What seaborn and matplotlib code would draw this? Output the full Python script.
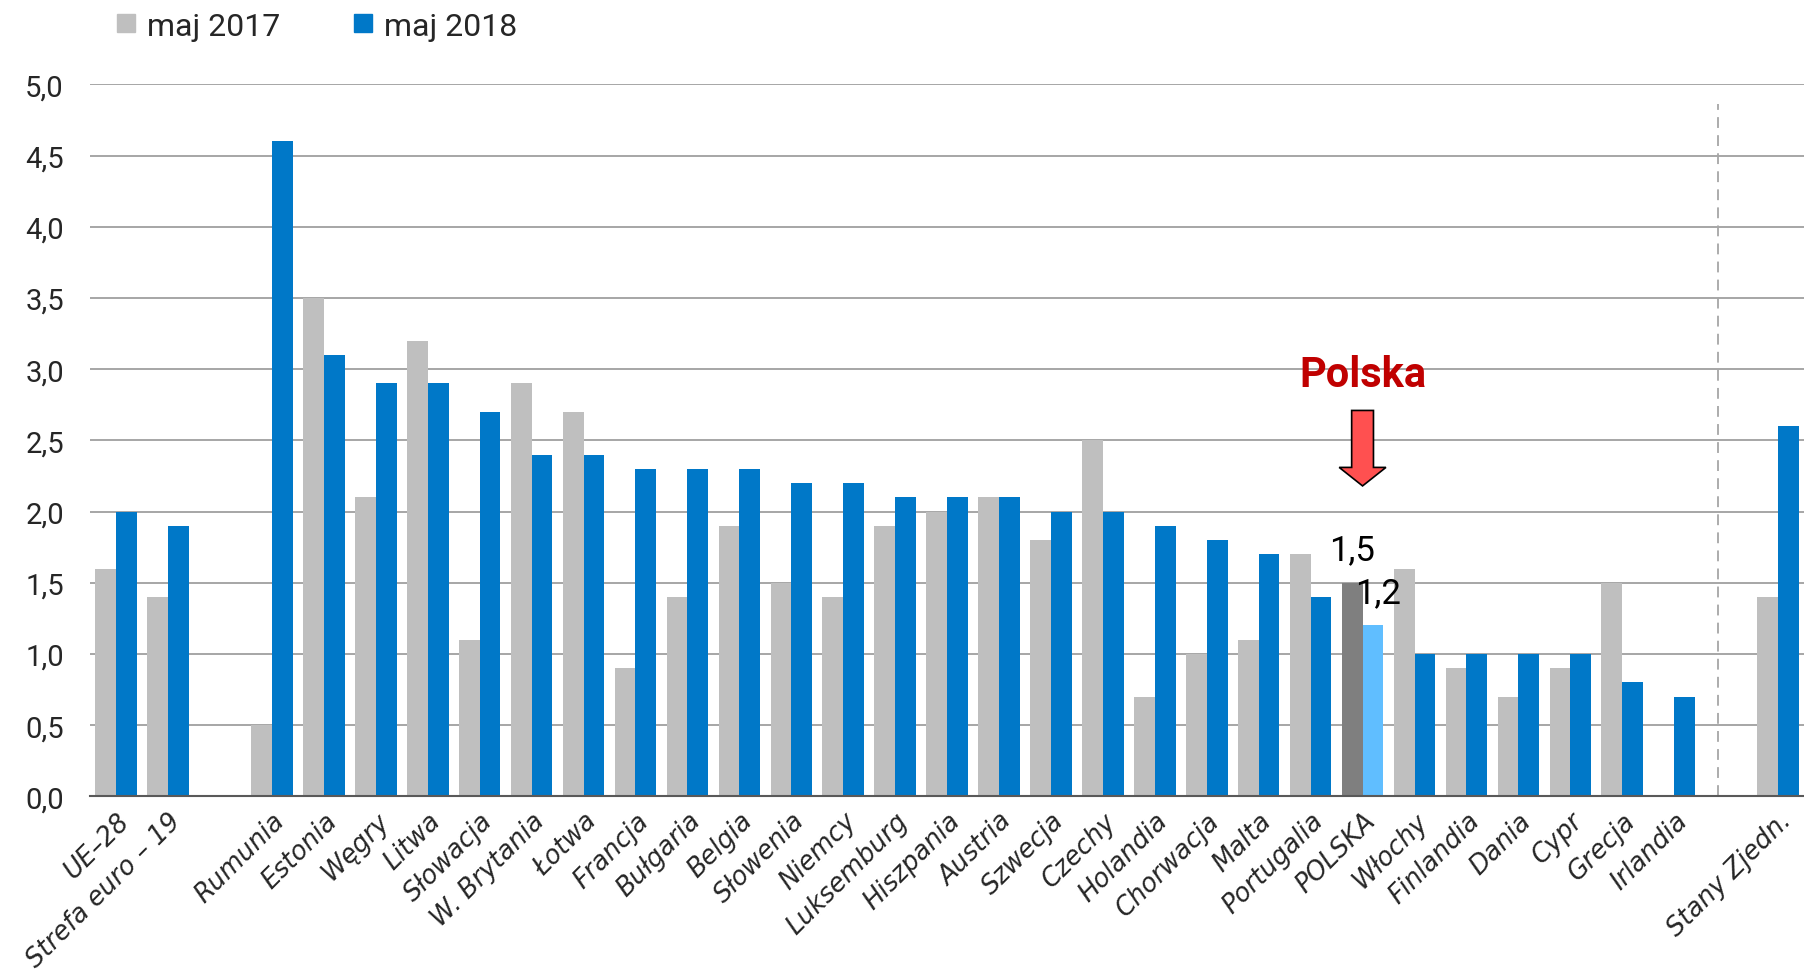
import pandas as pd
import numpy as np
import seaborn as sns
import matplotlib.pyplot as plt
from matplotlib.lines import Line2D
from matplotlib.ticker import FuncFormatter, MultipleLocator

# Dane
kraje = ['UE–28', 'Strefa euro – 19', '', 'Rumunia', 'Estonia', 'Węgry', 'Litwa',
         'Słowacja', 'W. Brytania', 'Łotwa', 'Francja', 'Bułgaria', 'Belgia',
         'Słowenia', 'Niemcy', 'Luksemburg', 'Hiszpania', 'Austria', 'Szwecja',
         'Czechy', 'Holandia', 'Chorwacja', 'Malta', 'Portugalia', 'POLSKA',
         'Włochy', 'Finlandia', 'Dania', 'Cypr', 'Grecja', 'Irlandia', ' ',
         'Stany Zjedn.']
maj_2017 = [1.6, 1.4, np.nan, 0.5, 3.5, 2.1, 3.2, 1.1, 2.9, 2.7, 0.9, 1.4, 1.9,
            1.5, 1.4, 1.9, 2.0, 2.1, 1.8, 2.5, 0.7, 1.0, 1.1, 1.7, 1.5,
            1.6, 0.9, 0.7, 0.9, 1.5, np.nan, np.nan, 1.4]
maj_2018 = [2.0, 1.9, np.nan, 4.6, 3.1, 2.9, 2.9, 2.7, 2.4, 2.4, 2.3, 2.3, 2.3,
            2.2, 2.2, 2.1, 2.1, 2.1, 2.0, 2.0, 1.9, 1.8, 1.7, 1.4, 1.2,
            1.0, 1.0, 1.0, 1.0, 0.8, 0.7, np.nan, 2.6]
serie = ['maj 2017', 'maj 2018']
kolory = ['#BFBFBF', '#0078C8']
kolory_pl = ['#7F7F7F', '#60BEFF']
wyrozniony = 'POLSKA'

df = pd.DataFrame({
    'kraj': kraje * 2,
    'okres': [serie[0]] * len(kraje) + [serie[1]] * len(kraje),
    'wartosc': maj_2017 + maj_2018,
})

sns.set_style('white')
plt.rcParams['font.family'] = ['Roboto', 'DejaVu Sans']

fig = plt.figure(figsize=(18.04, 9.70), dpi=100)
ax = fig.add_axes([0.05, 0.178, 0.95, 0.734])

sns.barplot(data=df, x='kraj', y='wartosc', hue='okres', order=kraje,
            hue_order=serie, palette=kolory, width=0.8, saturation=1,
            linewidth=0, legend=False, ax=ax, zorder=3)

# Wyróżnienie Polski
i_pl = kraje.index(wyrozniony)
for p in ax.patches:
    xc = p.get_x() + p.get_width() / 2
    if abs(xc - i_pl) < 0.45:
        p.set_facecolor(kolory_pl[0] if xc < i_pl else kolory_pl[1])

# Etykiety wartości dla Polski
for off, val in zip([-0.2, 0.3], [maj_2017[i_pl], maj_2018[i_pl]]):
    ax.annotate(f'{val:.1f}'.replace('.', ','), (i_pl + off, val),
                xytext=(0, 12), textcoords='offset points', ha='center',
                va='bottom', fontsize=25, color='black', zorder=5)

# Napis i strzałka
ax.text(i_pl, 2.96, 'Polska', ha='center', va='center', fontsize=30,
        fontweight='bold', color='#C00000')
ax.arrow(i_pl, 2.71, 0, -0.53, width=0.42, head_width=0.9, head_length=0.13,
         length_includes_head=True, facecolor='#FF5050', edgecolor='black',
         linewidth=1.2, zorder=4)

# Linia przerywana przed USA
i_sep = kraje.index(' ') - 0.15
ax.plot([i_sep, i_sep], [0, 4.86], ls=(0, (6, 4)), color='#A6A6A6', lw=1.3,
        zorder=2)

ax.set_ylim(0, 5.0)
ax.set_xlim(-0.5, len(kraje) - 0.5)
ax.yaxis.set_major_locator(MultipleLocator(0.5))
ax.yaxis.set_major_formatter(FuncFormatter(lambda v, _: f'{v:.1f}'.replace('.', ',')))
ax.grid(axis='y', color='#A6A6A6', lw=1.4, zorder=0)
ax.set_axisbelow(True)
for s in ['left', 'right', 'top']:
    ax.spines[s].set_visible(False)
ax.spines['bottom'].set_color('#595959')
ax.spines['bottom'].set_linewidth(1.5)
ax.spines['bottom'].set_zorder(4)

ax.set_xlabel('')
ax.set_ylabel('')
ax.tick_params(axis='y', length=0, pad=19, labelsize=21)
ax.set_xticks(np.arange(len(kraje)))
ax.set_xticklabels(kraje, rotation=45, ha='right', va='top',
                   rotation_mode='anchor', fontsize=18.5, style='italic',
                   family='DejaVu Sans')
ax.tick_params(axis='x', which='major', length=0, pad=8)
ax.set_xticks(np.arange(len(kraje) + 1) - 0.5, minor=True)
ax.tick_params(axis='x', which='minor', length=10, width=1.2, color='#595959',
               direction='out')

# Legenda
uchwyty = [Line2D([], [], marker='s', ls='', markersize=13, color=c) for c in kolory]
fig.legend(uchwyty, serie, loc='center left', bbox_to_anchor=(0.052, 0.972),
           ncol=2, frameon=False, fontsize=23, handletextpad=0.05,
           handlelength=1.2, columnspacing=2.0, borderaxespad=0)

fig.savefig('out.png', dpi=100)
